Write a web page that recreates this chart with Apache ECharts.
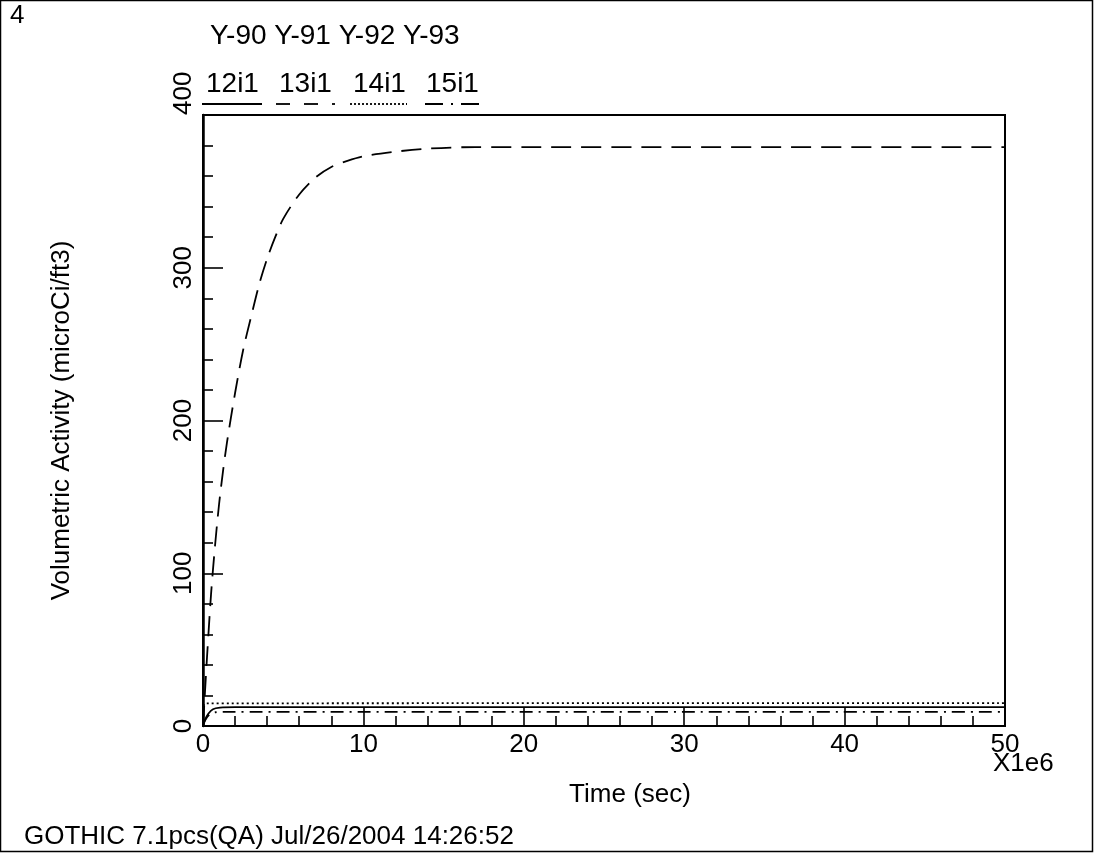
<!DOCTYPE html>
<html>
<head>
<meta charset="utf-8">
<script src="https://cdn.jsdelivr.net/npm/echarts@6/dist/echarts.min.js"></script>
<style>html,body{margin:0;padding:0;background:#fff}#chart{width:1094px;height:853px}</style>
</head>
<body>
<div id="chart"></div>
<script>
// names shown above the plot
var topNames = ['Y-90', 'Y-91', 'Y-92', 'Y-93'];
var seriesNames = ['12i1', '13i1', '14i1', '15i1'];
var xTicks = [0, 10, 20, 30, 40, 50];
var yTicks = [0, 100, 200, 300, 400];

// time in 1e6 sec, activity in microCi/ft3
var t12 = [0, 0.12, 0.33, 0.62, 1.06, 2, 50];
var v12 = [0, 4, 8, 11, 12, 12.3, 12.3];

var t13 = [0, 0.1, 0.25, 0.5, 0.75, 1, 1.25, 1.5, 2, 2.5, 3, 3.5, 4, 4.5, 5, 6, 7, 8, 9, 10, 12, 14, 17, 20, 30, 50];
var v13 = [0, 18, 45, 86, 118, 145, 167, 186, 218, 246, 268, 289, 306, 320, 332, 348, 359, 366, 370, 373, 376, 378, 379, 379, 379, 379];

var t14 = [0, 0.04, 0.12, 50];
var v14 = [0, 12, 14.8, 15];

var t15 = [0, 0.15, 0.4, 0.8, 1.5, 50];
var v15 = [0, 4, 7.5, 9, 9.3, 9.3];

var font = 'Liberation Sans, Arial, sans-serif';
var chart = echarts.init(document.getElementById('chart'));

var pairs = function (t, v) {
	return t.map(function (x, i) { return [x, v[i]]; });
};
var dashes = ['solid', [20, 10], [2, 3], [13, 6, 2, 6]];
var legDashes = [null, [14, 14], [2, 2], [18, 8, 2, 8]];
var allData = [pairs(t12, v12), pairs(t13, v13), pairs(t14, v14), pairs(t15, v15)];

var series = allData.map(function (d, i) {
	return {
		name: seriesNames[i],
		type: 'line',
		data: d,
		showSymbol: false,
		smooth: 0.3,
		lineStyle: {color: '#000', width: 1.8, type: dashes[i]},
		z: 3
	};
});

// legend drawn as text over line samples
var graphic = [
	{type: 'rect', shape: {x: 0.5, y: 0.5, width: 1092, height: 851}, style: {fill: null, stroke: '#000', lineWidth: 1.5}},
	{type: 'text', left: 10, top: 3, style: {text: '4', font: '26px ' + font, fill: '#000'}},
	{type: 'text', left: 210, top: 22, style: {text: topNames.join(' '), font: '28px ' + font, fill: '#000'}},
	{type: 'text', left: 993, top: 751, style: {text: 'X1e6', font: '26px ' + font, fill: '#000'}},
	{type: 'text', left: 24, top: 824, style: {text: 'GOTHIC 7.1pcs(QA) Jul/26/2004 14:26:52', font: '26px ' + font, fill: '#000'}}
];
var legX = [206, 279, 353, 426];
var lineX = [[202, 262], [276, 335], [350, 407], [425, 483]];
seriesNames.forEach(function (n, i) {
	graphic.push({type: 'text', left: legX[i], top: 70, style: {text: n, font: '28px ' + font, fill: '#000'}});
	graphic.push({
		type: 'line',
		shape: {x1: lineX[i][0], y1: 104, x2: lineX[i][1], y2: 104},
		style: {stroke: '#000', lineWidth: 1.8, lineDash: legDashes[i]}
	});
});

var option = {
	animation: false,
	backgroundColor: '#fff',
	grid: {
		left: 203, top: 115, right: 89, bottom: 127,
		show: true, borderColor: '#000', borderWidth: 2
	},
	xAxis: {
		type: 'value', min: 0, max: 50, interval: 10,
		name: 'Time (sec)', nameLocation: 'middle', nameGap: 56,
		nameTextStyle: {fontFamily: font, fontSize: 26, color: '#000', padding: [0, 0, 0, 52]},
		axisLine: {lineStyle: {color: '#000', width: 2}},
		axisTick: {inside: true, length: 19, lineStyle: {color: '#000', width: 1.6}},
		minorTick: {show: true, splitNumber: 5, length: 10, lineStyle: {color: '#000', width: 1.6}},
		axisLabel: {fontFamily: font, fontSize: 26, color: '#000', margin: 6,
			formatter: function (v) { return xTicks.indexOf(v) >= 0 ? String(v) : ''; }},
		splitLine: {show: false}
	},
	yAxis: {
		type: 'value', min: 0, max: 400, interval: 100,
		name: 'Volumetric Activity (microCi/ft3)', nameLocation: 'middle', nameGap: 128,
		nameTextStyle: {fontFamily: font, fontSize: 26, color: '#000'},
		axisLine: {lineStyle: {color: '#000', width: 2.5}},
		axisTick: {inside: true, length: 20, lineStyle: {color: '#000', width: 1.6}},
		minorTick: {show: true, splitNumber: 5, length: 10, lineStyle: {color: '#000', width: 1.6}},
		axisLabel: {fontFamily: font, fontSize: 26, color: '#000', rotate: 90, margin: 6, alignMaxLabel: 'left',
			formatter: function (v) { return yTicks.indexOf(v) >= 0 ? String(v) : ''; }},
		splitLine: {show: false}
	},
	graphic: graphic,
	series: series
};
chart.setOption(option);
</script>
</body>
</html>
